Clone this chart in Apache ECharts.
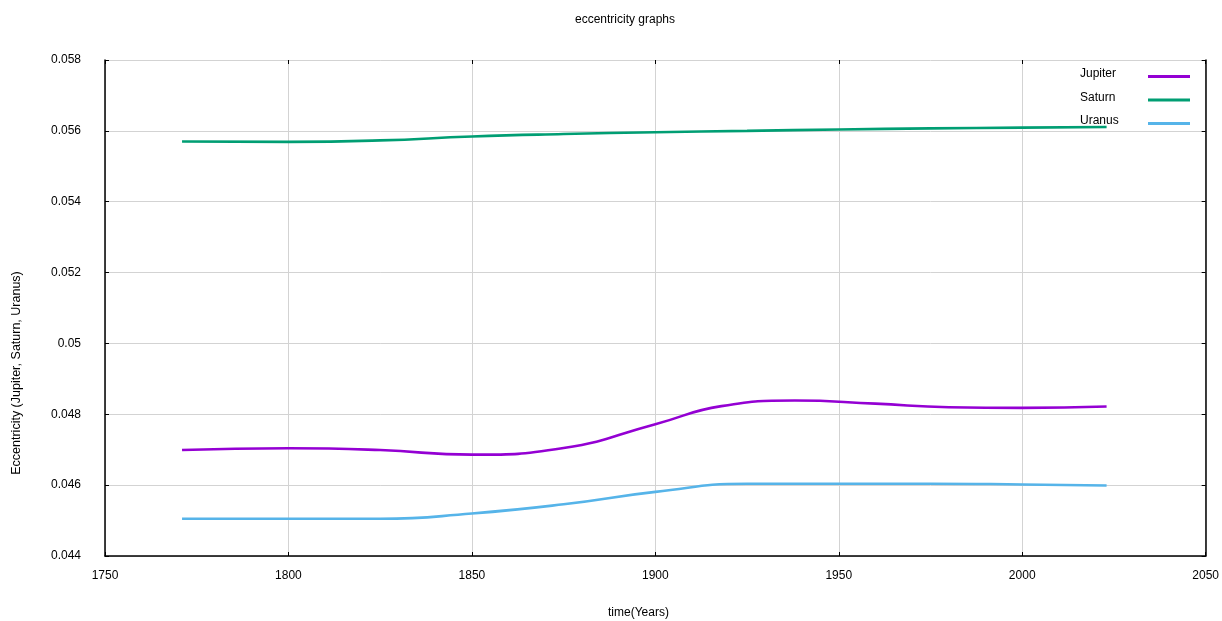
<!DOCTYPE html>
<html>
<head>
<meta charset="utf-8">
<title>eccentricity graphs</title>
<script src="https://cdn.jsdelivr.net/npm/echarts@6/dist/echarts.min.js"></script>
<style>
  html, body { margin: 0; padding: 0; background: #ffffff; }
  #chart { width: 1222px; height: 621px; }
</style>
</head>
<body>
<div id="chart"></div>
<script>
// Orbital eccentricity of the outer planets over time, [year, eccentricity]
const jupiter = [
  [1771, 0.04699], [1800, 0.04704], [1825, 0.04699], [1850, 0.04686],
  [1875, 0.04705], [1900, 0.04772], [1918, 0.04823], [1938, 0.04839],
  [1960, 0.04830], [1980, 0.04820], [2000, 0.04818], [2023, 0.04822]
];
const saturn = [
  [1771, 0.05570], [1800, 0.05569], [1825, 0.05573], [1850, 0.05584],
  [1875, 0.05591], [1900, 0.05596], [1925, 0.05600], [1950, 0.05604],
  [1975, 0.05607], [2000, 0.05609], [2023, 0.05611]
];
const uranus = [
  [1771, 0.04505], [1800, 0.04505], [1825, 0.04505], [1850, 0.04520],
  [1875, 0.04546], [1900, 0.04581], [1925, 0.04604], [1950, 0.04604],
  [1975, 0.04604], [2000, 0.04602], [2023, 0.04599]
];
const seriesNames = ['Jupiter', 'Saturn', 'Uranus'];
const seriesColors = ['#9400d3', '#009e73', '#56b4e9'];

// Axis ranges and tick steps
const xRange = [1750, 2050], xStep = 50;
const yRange = [0.044, 0.058], yStep = 0.002;

const FONT = 'Liberation Sans';
const chart = echarts.init(document.getElementById('chart'), null, { renderer: 'canvas' });

const yTickLabel = v => String(parseFloat(v.toFixed(3)));
const xTickLabel = v => String(v);

const baseAxis = {
  type: 'value',
  axisLine: { show: true, lineStyle: { color: '#000', width: 1.5 } },
  axisTick: { show: true, inside: true, length: 4, lineStyle: { color: '#000', width: 1 } },
  splitLine: { show: false },
  axisLabel: { show: false }
};

chart.setOption({
  animation: false,
  backgroundColor: '#ffffff',
  textStyle: { fontFamily: FONT },
  grid: { left: 105, right: 16, top: 60, bottom: 65, containLabel: false },
  legend: {
    data: seriesNames,
    orient: 'vertical',
    left: 1075,
    top: 63,
    align: 'right',
    icon: 'rect',
    itemWidth: 42,
    itemHeight: 3,
    itemGap: 11.5,
    formatter: name => '{n|' + name + '}',
    textStyle: {
      fontFamily: FONT, fontSize: 12, color: '#000',
      rich: { n: { width: 63, align: 'left', fontFamily: FONT, fontSize: 12, color: '#000', padding: [0, 0, 5, 0] } }
    }
  },
  xAxis: [
    Object.assign({}, baseAxis, {
      position: 'bottom',
      min: xRange[0], max: xRange[1], interval: xStep,
      axisLabel: { show: true, color: '#000', fontSize: 12, fontFamily: FONT, margin: 14, formatter: xTickLabel },
      splitLine: { show: true, lineStyle: { color: '#d3d3d3', width: 1 } }
    }),
    Object.assign({}, baseAxis, {
      position: 'top',
      min: xRange[0], max: xRange[1], interval: xStep,
      axisLine: { show: false }
    })
  ],
  yAxis: [
    Object.assign({}, baseAxis, {
      position: 'left',
      min: yRange[0], max: yRange[1], interval: yStep,
      axisLabel: { show: true, color: '#000', fontSize: 12, fontFamily: FONT, margin: 24, formatter: yTickLabel },
      splitLine: { show: true, lineStyle: { color: '#d3d3d3', width: 1 } }
    }),
    Object.assign({}, baseAxis, {
      position: 'right',
      min: yRange[0], max: yRange[1], interval: yStep
    })
  ],
  graphic: [
    { type: 'text', left: 575, top: 14,
      style: { text: 'eccentricity graphs', font: '12px "Liberation Sans"', fill: '#000' } },
    { type: 'text', left: 608, top: 607,
      style: { text: 'time(Years)', font: '12px "Liberation Sans"', fill: '#000' } },
    { type: 'text', x: 17, y: 373, rotation: Math.PI / 2,
      style: { text: 'Eccentricity (Jupiter, Saturn, Uranus)', font: '12.5px "Liberation Sans"',
               fill: '#000', align: 'center', verticalAlign: 'middle' } }
  ],
  series: [jupiter, saturn, uranus].map((data, i) => ({
    name: seriesNames[i],
    type: 'line',
    data: data,
    smooth: 0.5,
    showSymbol: false,
    symbol: 'none',
    color: seriesColors[i],
    lineStyle: { color: seriesColors[i], width: 2.6 }
  }))
});
</script>
</body>
</html>
